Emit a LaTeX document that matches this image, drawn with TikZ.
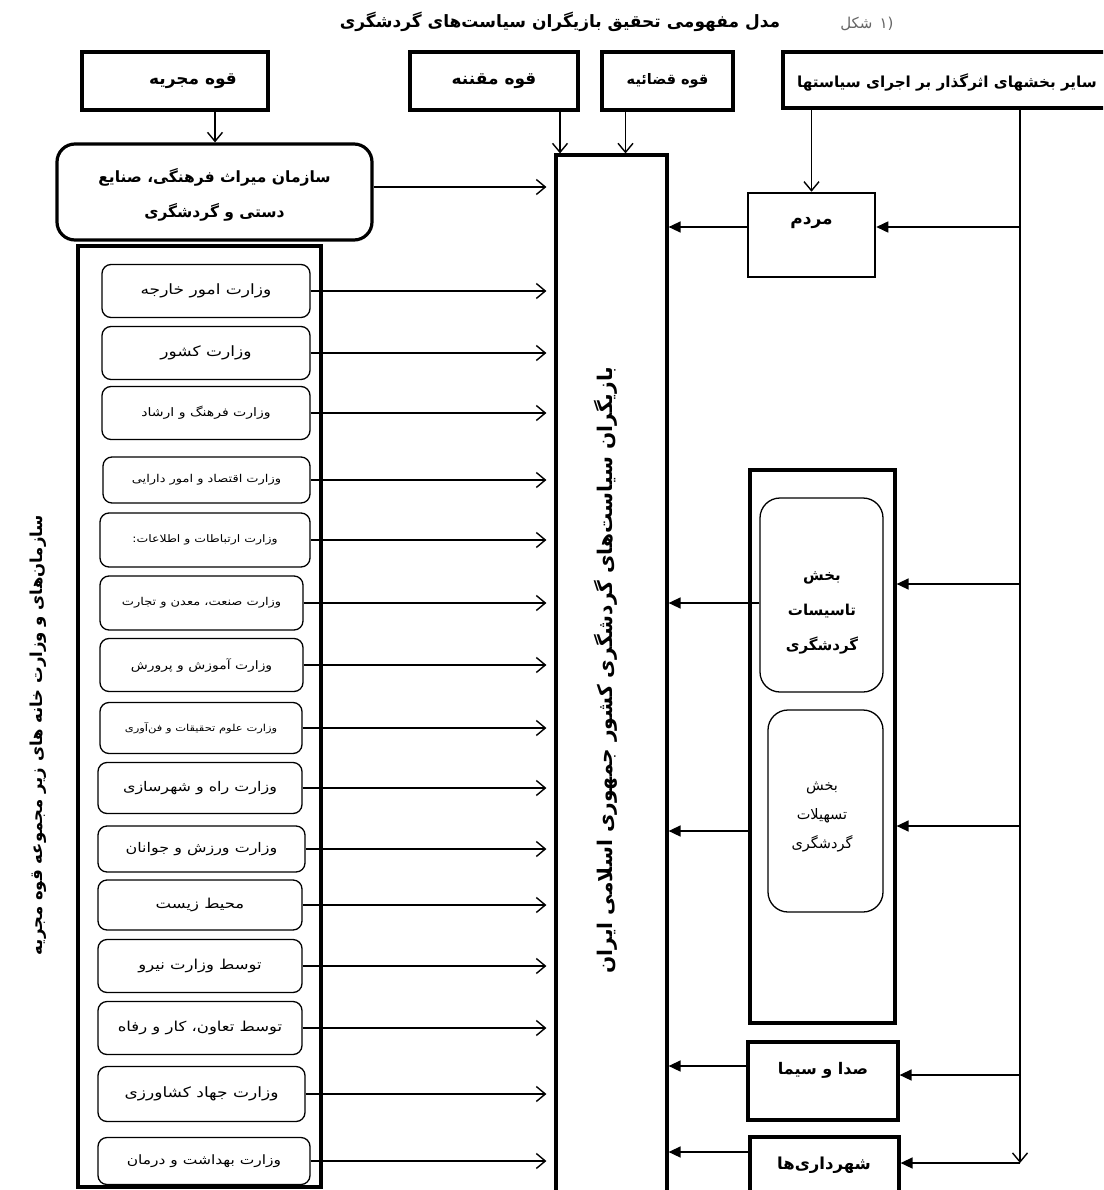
\documentclass[tikz,border=0pt]{standalone}
\usepackage{fontspec}
\usetikzlibrary{arrows.meta,calc}
\TeXXeTstate=1
\newfontfamily\fa[Script=Arabic]{DejaVu Sans}
\newfontfamily\fas[Script=Arabic,FakeStretch=1.2]{DejaVu Sans}
\newfontfamily\faplain{DejaVu Sans}
\newcommand{\rtltext}[1]{\beginR #1\endR}
\begin{document}
\begin{tikzpicture}[x=1pt,y=-1pt,
  thickbox/.style={draw, line width=3.2pt, inner sep=0pt},
  medbox/.style={draw, line width=2.5pt, inner sep=0pt},
  minbox/.style={draw, rounded corners=9pt, line width=1.3pt, inner sep=0pt},
  inbox/.style={draw, rounded corners=20pt, line width=1.3pt, inner sep=0pt},
  openarr/.style={line width=1.5pt, -{Straight Barb[length=9pt,width=15pt,line width=1.4pt]}},
  fillarr/.style={line width=1.5pt, -{Triangle[length=12pt,width=11pt]}},
  gap/.style={shorten >=8pt},
]
\useasboundingbox (0,0) rectangle (1103,1190);
\clip (0,0) rectangle (1103,1190);
\fill[white] (0,0) rectangle (1103,1190);

% title
\node[font=\fa\bfseries\fontsize{17}{20}\selectfont] (title) at (560,22) {\rtltext{مدل مفهومی تحقیق بازیگران سیاست‌های گردشگری}};
\node[font=\fa\fontsize{15}{18}\selectfont, text=black!60, anchor=east] (fig) at (876,24) {\rtltext{شکل}};
\node[font=\faplain\fontsize{15}{18}\selectfont, text=black!60, anchor=west] (fignum) at (fig.east) {۱)};

% top boxes
\node[thickbox, minimum width=186, minimum height=58] (exec) at (175,81) {};
\node[font=\fa\bfseries\fontsize{17}{19}\selectfont] at ([xshift=18pt]exec.center) {\rtltext{قوه مجریه}};
\node[thickbox, minimum width=168, minimum height=58, font=\fa\bfseries\fontsize{17}{19}\selectfont] (legis) at (494,81) {\rtltext{قوه مقننه}};
\node[thickbox, minimum width=131, minimum height=58, font=\fa\bfseries\fontsize{14.5}{17}\selectfont] (jud) at (667.5,81) {\rtltext{قوه قضائیه}};
\node[thickbox, minimum width=329, minimum height=56] (other) at (947.5,80) {};
\node[font=\fa\bfseries\fontsize{15.2}{17}\selectfont] at (947,82) {\rtltext{سایر بخشهای اثرگذار بر اجرای سیاستها}};

% heritage
\node[draw, line width=3.2pt, rounded corners=18pt, minimum width=315, minimum height=96, inner sep=0pt] (her) at (214.5,192) {};
\node[font=\fa\bfseries\fontsize{15.5}{35}\selectfont, align=center] at ([yshift=-3pt]her.center) {\rtltext{سازمان میراث فرهنگی، صنایع}\\\rtltext{دستی و گردشگری}};
\draw[openarr] ([xshift=40pt]exec.south) -- ([xshift=40pt]exec.south |- her.north);

% main center box
\node[thickbox, minimum width=111, minimum height=1055] (main) at (611.5,682.5) {};
\node[rotate=90, font=\fa\bfseries\fontsize{20.2}{24}\selectfont] (ctr) at (606,670) {\rtltext{بازیگران سیاست‌های گردشگری کشور جمهوری اسلامی ایران}};
\draw[openarr] ([xshift=66pt]legis.south) -- ([xshift=66pt]legis.south |- main.north);
\draw[openarr] ([xshift=-42pt]jud.south) -- ([xshift=-42pt]jud.south |- main.north);
\draw[openarr, gap] ([yshift=5pt]her.east) -- ([yshift=5pt]her.east -| main.west);

% container of ministries
\node[thickbox, minimum width=243, minimum height=941] (cont) at (199.5,716.5) {};
\node[rotate=90, font=\fa\bfseries\fontsize{16.5}{18}\selectfont] (lbl) at (38,735) {\rtltext{سازمان‌های و وزارت خانه های زیر مجموعه قوه مجریه}};

\foreach \cy/\l/\r/\h/\fs/\t [count=\i] in {
  291/102/310/53/14.2/{وزارت امور خارجه},
  353/102/310/53/14.2/{وزارت کشور},
  413/102/310/53/11.7/{وزارت فرهنگ و ارشاد},
  480/103/310/46/10.8/{وزارت اقتصاد و امور دارایی},
  540/100/310/54/10.4/{وزارت ارتباطات و اطلاعات:},
  603/100/303/54/10.8/{وزارت صنعت، معدن و تجارت},
  665/100/303/53/11.6/{وزارت آموزش و پرورش},
  728/100/302/51/9.6/{وزارت علوم تحقیقات و فن‌آوری},
  788/98/302/51/13.3/{وزارت راه و شهرسازی},
  849/98/305/46/13.3/{وزارت ورزش و جوانان},
  905/98/302/50/13.7/{محیط زیست},
  966/98/302/53/13.7/{توسط وزارت نیرو},
  1028/98/302/53/13.7/{توسط تعاون، کار و رفاه},
  1094/98/305/55/14.2/{وزارت جهاد کشاورزی},
  1161/98/310/47/12.9/{وزارت بهداشت و درمان}}{
  \node[minbox, minimum width={\r-\l}, minimum height=\h, font=\fas\fontsize{\fs}{\fs}\selectfont] (m\i) at ({(\l+\r)/2},\cy) {\rtltext{\t}};
  \draw[openarr, gap] (m\i.east) -- (m\i.east -| main.west);
}

% right side
\coordinate (vbot) at (1020,1163);
\draw[openarr] (other.south -| vbot) -- (vbot);

\node[medbox, minimum width=127, minimum height=84] (people) at (811.5,235) {};
\node[font=\fa\bfseries\fontsize{17}{19}\selectfont] at ([yshift=12pt]people.center) {\rtltext{مردم}};
\draw[openarr] (other.south -| people.north) -- (people.north);
\coordinate (pe) at ([yshift=8pt]people.east);
\coordinate (pw) at ([yshift=8pt]people.west);
\draw[fillarr] (pe -| vbot) -- (pe);
\draw[fillarr] (pw) -- (pw -| main.east);

\node[thickbox, minimum width=145, minimum height=553] (sect) at (822.5,746.5) {};
\node[inbox, minimum width=123, minimum height=194] (s1) at (821.5,595) {};
\node[font=\fa\bfseries\fontsize{15}{35}\selectfont, align=center] at (822,613) {\rtltext{بخش}\\\rtltext{تاسیسات}\\\rtltext{گردشگری}};
\node[inbox, minimum width=115, minimum height=202] (s2) at (825.5,811) {};
\node[font=\fa\fontsize{14.5}{29}\selectfont, align=center] at (822,817) {\rtltext{بخش}\\\rtltext{تسهیلات}\\\rtltext{گردشگری}};
\coordinate (se1) at ([yshift=162.5pt]sect.east);
\coordinate (se2) at ([yshift=-79.5pt]sect.east);
\draw[fillarr] (se1 -| vbot) -- (se1);
\draw[fillarr] (se2 -| vbot) -- (se2);
\coordinate (sw1) at ([yshift=-8pt]s1.west);
\coordinate (sw2) at ([yshift=-84.5pt]sect.west);
\draw[fillarr] (sw1) -- (sw1 -| main.east);
\draw[fillarr] (sw2) -- (sw2 -| main.east);

\node[thickbox, minimum width=150, minimum height=78] (media) at (823,1081) {};
\node[font=\fa\bfseries\fontsize{16}{18}\selectfont] at ([yshift=11pt]media.center) {\rtltext{صدا و سیما}};
\coordinate (me) at ([yshift=6pt]media.east);
\coordinate (mw) at ([yshift=15pt]media.west);
\draw[fillarr] (me -| vbot) -- (me);
\draw[fillarr] (mw) -- (mw -| main.east);

\node[thickbox, minimum width=149, minimum height=78] (muni) at (824.5,1176) {};
\node[font=\fa\bfseries\fontsize{16.5}{18}\selectfont] at (824,1165) {\rtltext{شهرداری‌ها}};
\coordinate (ue) at (vbot -| muni.east);
\coordinate (uw) at ([yshift=24pt]muni.west);
\draw[fillarr] (vbot) -- (ue);
\draw[fillarr] (uw) -- (uw -| main.east);
\end{tikzpicture}
\end{document}
